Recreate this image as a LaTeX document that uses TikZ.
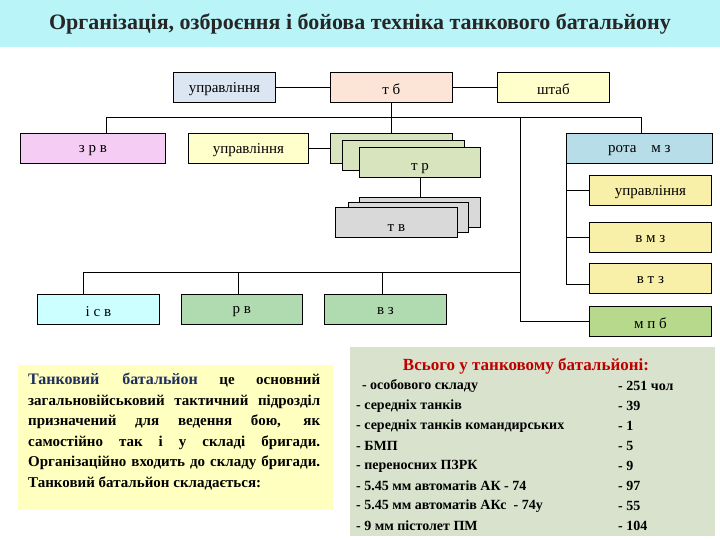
\documentclass[tikz,border=0pt]{standalone}
\usepackage{fontspec}
\setmainfont{Liberation Serif}
\definecolor{titlebg}{HTML}{B8F4F8}
\definecolor{cblue}{HTML}{DCE6F2}
\definecolor{cpeach}{HTML}{FCE4D6}
\definecolor{cyel}{HTML}{FFFFCC}
\definecolor{cpink}{HTML}{F4CCF4}
\definecolor{cgreen}{HTML}{D7E4BD}
\definecolor{cgray}{HTML}{D9D9D9}
\definecolor{crota}{HTML}{B7DDE8}
\definecolor{cyel2}{HTML}{F8EFA8}
\definecolor{ccyan}{HTML}{CCFFFF}
\definecolor{cmgreen}{HTML}{B0DBB0}
\definecolor{cmpb}{HTML}{B7D98B}
\definecolor{leftbg}{HTML}{FFFFC0}
\definecolor{rightbg}{HTML}{D8E2CC}
\definecolor{navy}{HTML}{1F2F5F}
\begin{document}
\begin{tikzpicture}[x=1pt,y=-1pt,
 bx/.style={draw,line width=0.8pt,anchor=north west,inner sep=0pt},
 lbl/.style={font=\fontsize{15}{15}\selectfont},
 ln/.style={line width=0.8pt}]
\useasboundingbox (0,0) rectangle (720,540);
\fill[white] (0,0) rectangle (720,540);
\fill[titlebg] (0,0) rectangle (720,47);
\node[font=\bfseries\fontsize{22}{22}\selectfont,text=black!85] (title) at (360,24) {Організація, озброєння і бойова техніка танкового батальйону};
\newcommand{\mybox}[6]{\node[bx,fill=#2,minimum width=#5-#3,minimum height=#6-#4] (#1) at (#3,#4) {};}
\mybox{upr}{cblue}{173}{72}{275}{102}
\node[lbl] at ([yshift=-2]upr.center) {управління};
\mybox{tb}{cpeach}{330}{72}{452}{102}
\node[lbl] at ([yshift=-2]tb.center) {т б};
\mybox{shtab}{cyel}{497}{72}{609}{102}
\node[lbl] at ([yshift=-2]shtab.center) {штаб};
\mybox{zrv}{cpink}{20}{133}{165}{163}
\node[lbl] at ([yshift=-2]zrv.center) {з р в};
\mybox{uprb}{cyel}{188}{133}{308}{163}
\node[lbl] at ([yshift=-2]uprb.center) {управління};
\mybox{trA}{cgreen}{330}{133}{452}{163}
\mybox{trB}{cgreen}{342}{140}{464}{170}
\mybox{tr}{cgreen}{359}{147}{480}{177}
\node[lbl] at ([yshift=-6]tr.center) {т р};
\mybox{rota}{crota}{566}{133}{712}{163}
\node[lbl] at ([yshift=-2]rota.center) {рота\quad м з};
\mybox{uprc}{cyel2}{589}{175}{711}{205}
\node[lbl] at ([yshift=-2]uprc.center) {управління};
\mybox{tvA}{cgray}{359}{197}{480}{227}
\mybox{tvB}{cgray}{348}{202}{468}{232}
\mybox{tv}{cgray}{335}{207}{457}{237}
\node[lbl] at ([yshift=-6]tv.center) {т в};
\mybox{vmz}{cyel2}{589}{222}{711}{252}
\node[lbl] at ([yshift=-2]vmz.center) {в м з};
\mybox{vtz}{cyel2}{589}{263}{711}{293}
\node[lbl] at ([yshift=-2]vtz.center) {в т з};
\mybox{isv}{ccyan}{37}{294}{159}{324}
\node[lbl] at ([yshift=-2]isv.center) {і с в};
\mybox{rv}{cmgreen}{181}{294}{302}{324}
\node[lbl] at ([yshift=-2]rv.center) {р в};
\mybox{vz}{cmgreen}{324}{294}{446}{324}
\node[lbl] at ([yshift=-2]vz.center) {в з};
\mybox{mpb}{cmpb}{589}{306}{711}{336}
\node[lbl] at ([yshift=-2]mpb.center) {м п б};
% connectors
\coordinate (bus) at (tb.south|-0,117);
\coordinate (busL) at (106,117);
\coordinate (busR) at (641,117);
\coordinate (busM) at (520,117);
\coordinate (low) at (520,272);
\coordinate (lowL) at (83,272);
\coordinate (rcol) at (566,284);
\draw[ln] (upr.east) -- (tb.west);
\draw[ln] (tb.east) -- (shtab.west);
\draw[ln] (tb.south) -- (bus);
\draw[ln] (busL) -- (busR);
\draw[ln] (busL) -- (busL|-zrv.north);
\draw[ln] (busR) -- (busR|-rota.north);
\draw[ln] (bus) -- (bus|-trA.north);
\draw[ln] (uprb.east) -- (uprb.east-|trA.west);
\draw[ln] (tr.south) -- (tr.south|-tvA.north);
\draw[ln] (busM) |- (mpb.west);
\draw[ln] (lowL) -- (low);
\draw[ln] (lowL) -- (isv.north-|lowL);
\draw[ln] (238,272) -- (238,294);
\draw[ln] (382,272) -- (382,294);
\draw[ln] (rota.south west) -- (rcol);
\draw[ln] (uprc.west) -- (uprc.west-|rcol);
\draw[ln] (vmz.west) -- (vmz.west-|rcol);
\draw[ln] (rcol) -- (vtz.west|-rcol);
% bottom left
\fill[leftbg] (18,365) rectangle (333,510);
\node[anchor=north west,text width=292pt,align=justify,inner sep=0pt,
  font=\bfseries\fontsize{15}{20.5}\selectfont] (desc) at (28,373)
 {{\color{navy}\fontsize{16}{20.5}\selectfont Танковий батальйон} це основний загальновійськовий тактичний підрозділ призначений для ведення бою, як самостійно так і у складі бригади. Організаційно входить до складу бригади. Танковий батальйон складається:};
% bottom right
\fill[rightbg] (350,347) rectangle (715,536);
\node[font=\bfseries\fontsize{17}{17}\selectfont,text=red!75!black] (sumt) at (526,366) {Всього у танковому батальйоні:};
\foreach \y/\a/\b in {386/{\ \,- особового складу}/{- 251 чол},406/{- середніх танків}/{- 39},426/{- середніх танків командирських}/{- 1},446/{- БМП}/{- 5},466/{- переносних ПЗРК}/{- 9},486/{- 5.45 мм автоматів АК - 74}/{- 97},506/{- 5.45 мм автоматів АКс\ \ - 74у}/{- 55},526/{- 9 мм пістолет ПМ}/{- 104}}{
 \node[anchor=west,inner sep=0pt,font=\bfseries\fontsize{14}{14}\selectfont] at (356,\y) {\a};
 \node[anchor=west,inner sep=0pt,font=\bfseries\fontsize{14}{14}\selectfont] at (618,\y) {\b};
}
\end{tikzpicture}
\end{document}
